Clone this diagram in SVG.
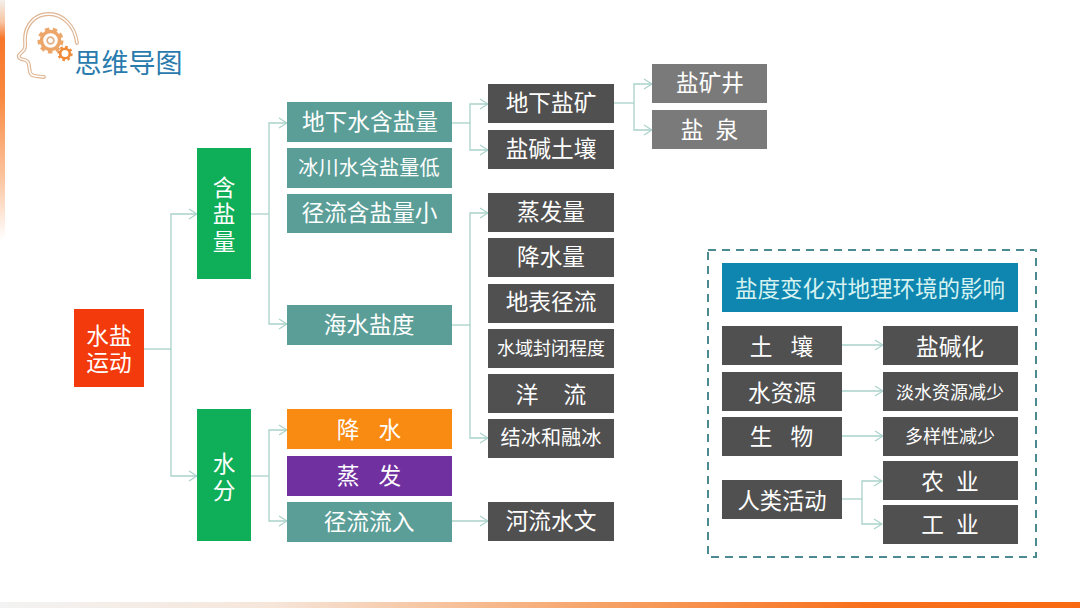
<svg xmlns="http://www.w3.org/2000/svg" width="1080" height="608" viewBox="0 0 1080 608">
<style>
.teal{fill:#5a9e97}.dark{fill:#505050}.gray{fill:#7a7a7a}.green{fill:#0fae58}
text{font-family:"Noto Sans CJK SC","Noto Sans",sans-serif;fill:#fff;text-anchor:middle;dominant-baseline:central;font-size:22.7px}
text.m{font-family:"Liberation Sans","Noto Sans CJK SC",sans-serif}
.s{font-size:20.2px}
.xs{font-size:18px}
.c{fill:none;stroke:#a9d2ca;stroke-width:1.3}
.head{fill:none;stroke-linecap:round;stroke-linejoin:round}
</style>
<defs>
<marker id="a" markerWidth="10" markerHeight="12" refX="9" refY="6" orient="auto" markerUnits="userSpaceOnUse"><path d="M1 1L9 6L1 11" fill="none" stroke="#a9d2ca" stroke-width="1.2"/></marker>
<linearGradient id="lg" x1="0" y1="0" x2="0" y2="1"><stop offset="0" stop-color="#f3efeb"/><stop offset=".09" stop-color="#f7c7a5"/><stop offset=".16" stop-color="#f8762a"/><stop offset=".4" stop-color="#f9893f"/><stop offset=".75" stop-color="#fbc6a2"/><stop offset="1" stop-color="#fff"/></linearGradient>
<linearGradient id="bg" x1="0" y1="0" x2="1" y2="0"><stop offset="0" stop-color="#f3f3f3"/><stop offset=".25" stop-color="#f6e6da"/><stop offset=".55" stop-color="#f6a469"/><stop offset=".8" stop-color="#f8701c"/><stop offset="1" stop-color="#f96a10"/></linearGradient>
</defs>
<rect width="1080" height="608" fill="#fff"/>
<rect id="left-strip" x="0" y="0" width="5" height="240" fill="url(#lg)"/>
<rect id="bottom-strip" x="0" y="602" width="1080" height="6" fill="url(#bg)"/>

<g id="logo" fill="none">
<path class="head" d="M77 43C75 25 62 14 49 14C34 14 25 26 25 39C25 45 26 47 24 50L19 55C18 58 20 59 25 60C28 61 29 63 29 66L30 72C31 77 37 76 44 77" stroke="#dfb593" stroke-width="3.8"/>
<path class="head" d="M77 43C75 25 62 14 49 14C34 14 25 26 25 39C25 45 26 47 24 50L19 55C18 58 20 59 25 60C28 61 29 63 29 66L30 72C31 77 37 76 44 77" stroke="#fff" stroke-width="1.5"/>
<circle cx="50.500" cy="40.500" r="9" stroke="#eda66a" stroke-width="3.400"/>
<circle cx="50.500" cy="40.500" r="11.500" stroke="#eda66a" stroke-width="3" stroke-dasharray="4.500 3.530"/>
<circle cx="50.500" cy="40.500" r="3.400" stroke="#e3b48c" stroke-width="1.800"/>
<circle cx="65" cy="53.500" r="4.800" stroke="#ef8a3a" stroke-width="2.600"/>
<circle cx="65" cy="53.500" r="6.600" stroke="#ef8a3a" stroke-width="2.200" stroke-dasharray="2.600 2.580"/>
</g>
<text id="logo-title" x="128.500" y="61" style="font-size:27px;fill:#2a7bad">思维导图</text>

<g id="connectors">
<path class="c" d="M144 349H171"/>
<path class="c" d="M171 349V214H197" marker-end="url(#a)"/>
<path class="c" d="M171 349V476H197" marker-end="url(#a)"/>
<path class="c" d="M251 214H269"/>
<path class="c" d="M269 214V123H287" marker-end="url(#a)"/>
<path class="c" d="M269 214V324H287" marker-end="url(#a)"/>
<path class="c" d="M251 476H269"/>
<path class="c" d="M269 476V430H287" marker-end="url(#a)"/>
<path class="c" d="M269 476V521H287" marker-end="url(#a)"/>
<path class="c" d="M452 123H470"/>
<path class="c" d="M470 123V104H488" marker-end="url(#a)"/>
<path class="c" d="M470 123V150H488" marker-end="url(#a)"/>
<path class="c" d="M452 325H470"/>
<path class="c" d="M470 325V213H488" marker-end="url(#a)"/>
<path class="c" d="M470 325V438H488" marker-end="url(#a)"/>
<path class="c" d="M452 521H488" marker-end="url(#a)"/>
<path class="c" d="M614 103H634"/>
<path class="c" d="M634 103V84H652" marker-end="url(#a)"/>
<path class="c" d="M634 103V130H652" marker-end="url(#a)"/>
<path class="c" d="M842 345H883" marker-end="url(#a)"/>
<path class="c" d="M842 391H883" marker-end="url(#a)"/>
<path class="c" d="M842 436H883" marker-end="url(#a)"/>
<path class="c" d="M842 499H862"/>
<path class="c" d="M862 499V481H882" marker-end="url(#a)"/>
<path class="c" d="M862 499V524H882" marker-end="url(#a)"/>
</g>

<g id="n-root"><rect x="74" y="309" width="70" height="78" fill="#f33a0c"/><text class="m"><tspan x="109" y="335.500">水盐</tspan><tspan x="109" y="362.500">运动</tspan></text></g>
<g id="n-hanyan"><rect class="green" x="197" y="148" width="54" height="131"/><text class="m"><tspan x="224" y="187.500">含</tspan><tspan x="224" y="214">盐</tspan><tspan x="224" y="241.500">量</tspan></text></g>
<g id="n-shuifen"><rect class="green" x="197" y="409" width="54" height="132"/><text class="m"><tspan x="224" y="463.500">水</tspan><tspan x="224" y="490.500">分</tspan></text></g>

<g id="n-dxs"><rect class="teal" x="287" y="102" width="165" height="40"/><text x="370" y="120.200">地下水含盐量</text></g>
<g id="n-bc"><rect class="teal" x="287" y="148" width="165" height="40"/><text class="s" x="369" y="166.800">冰川水含盐量低</text></g>
<g id="n-jl"><rect class="teal" x="287" y="194" width="165" height="39"/><text x="369.500" y="211.800">径流含盐量小</text></g>
<g id="n-hs"><rect class="teal" x="287" y="305" width="165" height="40"/><text x="369" y="323.500">海水盐度</text></g>
<g id="n-js"><rect x="287" y="409" width="165" height="40" fill="#f98a12"/><text x="369" y="428.500" style="word-spacing:14px">降 水</text></g>
<g id="n-zf"><rect x="287" y="456" width="165" height="40" fill="#7030a0"/><text x="369" y="474.500" style="word-spacing:14px">蒸 发</text></g>
<g id="n-jllr"><rect class="teal" x="287" y="502" width="165" height="40"/><text x="369" y="520.200">径流流入</text></g>

<g id="n-dxyk"><rect class="dark" x="488" y="84" width="126" height="39"/><text x="551" y="101.500">地下盐矿</text></g>
<g id="n-yjtr"><rect class="dark" x="488" y="130" width="126" height="39"/><text x="551" y="147.800">盐碱土壤</text></g>
<g id="n-zfl"><rect class="dark" x="488" y="193" width="126" height="39"/><text x="551" y="210.200">蒸发量</text></g>
<g id="n-jsl"><rect class="dark" x="488" y="238" width="126" height="39"/><text x="551" y="255.200">降水量</text></g>
<g id="n-dbjl"><rect class="dark" x="488" y="284" width="126" height="39"/><text x="551" y="300.800">地表径流</text></g>
<g id="n-sy"><rect class="dark" x="488" y="329" width="126" height="39"/><text class="xs" x="551" y="346.800">水域封闭程度</text></g>
<g id="n-yl"><rect class="dark" x="488" y="374" width="126" height="39"/><text x="551" y="393.500" style="word-spacing:20px">洋 流</text></g>
<g id="n-jb"><rect class="dark" x="488" y="419" width="126" height="39"/><text class="s" x="551" y="436.200">结冰和融冰</text></g>
<g id="n-hl"><rect class="dark" x="488" y="502" width="126" height="39"/><text x="551" y="519.500">河流水文</text></g>

<g id="n-ykj"><rect class="gray" x="652" y="64" width="115" height="39"/><text x="710" y="81.800">盐矿井</text></g>
<g id="n-yq"><rect class="gray" x="652" y="110" width="115" height="39"/><text x="709.500" y="128.500" style="word-spacing:7px">盐 泉</text></g>

<g id="panel"><rect x="708" y="250" width="328" height="307" fill="none" stroke="#4a8a90" stroke-width="2" stroke-dasharray="8 6"/></g>
<g id="n-head"><rect x="722" y="263" width="296" height="49" fill="#0e86b0"/><text x="870" y="286.800" style="font-size:22.500px;fill:#d5f2f0">盐度变化对地理环境的影响</text></g>
<g id="n-tr"><rect class="dark" x="722" y="326" width="120" height="39"/><text x="781.500" y="345.200" style="word-spacing:13px">土 壤</text></g>
<g id="n-szy"><rect class="dark" x="722" y="372" width="120" height="39"/><text x="782" y="391.200">水资源</text></g>
<g id="n-sw"><rect class="dark" x="722" y="417" width="120" height="39"/><text x="781.500" y="435.200" style="word-spacing:13px">生 物</text></g>
<g id="n-rl"><rect class="dark" x="722" y="480" width="120" height="39"/><text x="782" y="499.200" style="font-size:22.300px">人类活动</text></g>
<g id="n-yjh"><rect class="dark" x="883" y="326" width="135" height="39"/><text x="950" y="345.200">盐碱化</text></g>
<g id="n-dszy"><rect class="dark" x="883" y="372" width="135" height="39"/><text class="xs" x="950" y="391.200">淡水资源减少</text></g>
<g id="n-dyx"><rect class="dark" x="883" y="417" width="135" height="39"/><text class="xs" x="950" y="435.200">多样性减少</text></g>
<g id="n-ny"><rect class="dark" x="883" y="461" width="135" height="39"/><text x="950" y="480.200" style="word-spacing:7px">农 业</text></g>
<g id="n-gy"><rect class="dark" x="883" y="505" width="135" height="39"/><text x="950" y="523.500" style="word-spacing:7px">工 业</text></g>
</svg>
